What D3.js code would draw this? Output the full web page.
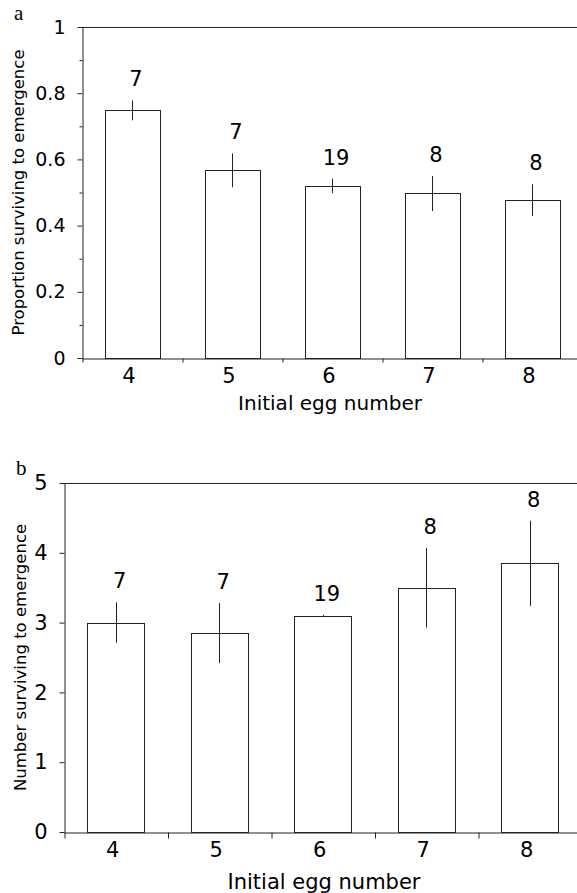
<!DOCTYPE html>
<html>
<head>
<meta charset="utf-8">
<script src="https://cdn.jsdelivr.net/npm/d3@7"></script>
<style>
  body { margin: 0; background: #fff; }
  svg { display: block; }
  text { font-family: "DejaVu Sans", "Liberation Sans", Arial, sans-serif; fill: #000; }
</style>
</head>
<body>
<div id="chart"></div>
<script>
// data
const eggNumbers = ["4", "5", "6", "7", "8"];
const sampleSizes = [7, 7, 19, 8, 8];

const propMean = [0.748, 0.567, 0.52, 0.497, 0.477];
const propSE = [0.03, 0.051, 0.022, 0.053, 0.048];
const propTicks = [0, 0.2, 0.4, 0.6, 0.8, 1];
const propMinorTicks = [0.1, 0.3, 0.5, 0.7, 0.9];

const numMean = [3.0, 2.85, 3.1, 3.5, 3.85];
const numSE = [0.29, 0.43, 0.01, 0.57, 0.61];
const numTicks = [0, 1, 2, 3, 4, 5];

const svg = d3
  .select("#chart")
  .append("svg")
  .attr("width", 577)
  .attr("height", 893);

const ink = "#222";

function drawPanel(p) {
  const g = svg.append("g");

  const x = d3
    .scaleBand()
    .domain(eggNumbers)
    .range([p.left, p.left + 5 * p.step])
    .paddingInner(0.45)
    .paddingOuter(0.225);

  const xEdge = d3
    .scaleLinear()
    .domain([0, 5])
    .range([p.left, p.left + 5 * p.step]);

  const y = d3.scaleLinear().domain([0, p.yMax]).range([p.bottom, p.top]);

  const rows = eggNumbers.map((k, i) => ({
    k: k,
    n: sampleSizes[i],
    m: p.mean[i],
    se: p.se[i]
  }));

  // bars
  g.selectAll(".bar")
    .data(rows)
    .enter()
    .append("rect")
    .attr("class", "bar")
    .attr("x", d => Math.round(x(d.k)) + 0.5)
    .attr("y", d => Math.round(y(d.m)) + 0.5)
    .attr("width", Math.round(x.bandwidth()))
    .attr("height", d => Math.round(y(0)) - Math.round(y(d.m)))
    .attr("fill", "none")
    .attr("stroke", ink)
    .attr("stroke-width", 1);

  // error bars
  g.selectAll(".err")
    .data(rows)
    .enter()
    .append("line")
    .attr("class", "err")
    .attr("x1", d => Math.round(x(d.k) + x.bandwidth() / 2) + 0.5)
    .attr("x2", d => Math.round(x(d.k) + x.bandwidth() / 2) + 0.5)
    .attr("y1", d => y(d.m + d.se))
    .attr("y2", d => y(d.m - d.se))
    .attr("stroke", ink)
    .attr("stroke-width", 1);

  // sample sizes
  g.selectAll(".nlab")
    .data(rows)
    .enter()
    .append("text")
    .attr("class", "nlab")
    .attr("x", d => x(d.k) + x.bandwidth() / 2 + 4)
    .attr("y", d => y(d.m + d.se) - 14)
    .attr("text-anchor", "middle")
    .attr("font-size", "21px")
    .text(d => d.n);

  // top frame line
  g.append("line")
    .attr("x1", p.left)
    .attr("x2", 577)
    .attr("y1", Math.round(p.top) + 0.5)
    .attr("y2", Math.round(p.top) + 0.5)
    .attr("stroke", ink);

  // y axis
  const yAxis = g
    .append("g")
    .attr("transform", `translate(${p.left + 0.5},0)`)
    .call(
      d3.axisLeft(y)
        .tickValues(p.ticks)
        .tickSize(5)
        .tickSizeOuter(0)
        .tickPadding(12)
        .tickFormat(d => String(d))
    );
  yAxis.selectAll("text").attr("font-size", p.yTickFont + "px").attr("font-family", null);
  yAxis.selectAll("line, path").attr("stroke", ink);

  if (p.minor) {
    const yMinor = g
      .append("g")
      .attr("transform", `translate(${p.left + 0.5},0)`)
      .call(d3.axisLeft(y).tickValues(p.minor).tickSize(3).tickFormat(""));
    yMinor.select("path").remove();
    yMinor.selectAll("line").attr("stroke", ink);
  }

  // x axis labels
  const xAxis = g
    .append("g")
    .attr("transform", `translate(0,${Math.round(p.bottom) + 0.5})`)
    .call(d3.axisBottom(x).tickSize(0).tickSizeOuter(0).tickPadding(10));
  xAxis.select("path").attr("stroke", ink);
  xAxis.selectAll("text")
    .attr("font-size", p.xTickFont + "px")
    .attr("font-family", null)
    .attr("dx", -3);

  // boundary ticks
  const xTicks = g
    .append("g")
    .attr("transform", `translate(0.5,${Math.round(p.bottom) + 0.5})`)
    .call(d3.axisBottom(xEdge).ticks(5).tickSize(p.xTickLen).tickFormat(""));
  xTicks.select("path").remove();
  xTicks.selectAll("line").attr("stroke", ink);

  // axis titles
  g.append("text")
    .attr("transform", `translate(${p.yTitleX},${(p.top + p.bottom) / 2}) rotate(-90)`)
    .attr("text-anchor", "middle")
    .attr("font-size", "16.5px")
    .text(p.yTitle);

  g.append("text")
    .attr("x", p.xTitleX)
    .attr("y", p.xTitleY)
    .attr("text-anchor", "middle")
    .attr("font-size", p.xTitleFont + "px")
    .text("Initial egg number");

  // panel letter
  g.append("text")
    .attr("x", p.letterX)
    .attr("y", p.letterY)
    .attr("font-size", "21px")
    .style("font-family", "'Liberation Serif', 'Times New Roman', serif")
    .text(p.letter);
}

drawPanel({
  letter: "a",
  letterX: 14,
  letterY: 20,
  left: 82,
  step: 100,
  top: 27,
  bottom: 358,
  yMax: 1,
  mean: propMean,
  se: propSE,
  ticks: propTicks,
  minor: propMinorTicks,
  yTickFont: 19,
  xTickFont: 21,
  xTickLen: 4,
  yTitle: "Proportion surviving to emergence",
  yTitleX: 24,
  xTitleX: 330,
  xTitleY: 410,
  xTitleFont: 20
});

drawPanel({
  letter: "b",
  letterX: 16,
  letterY: 475,
  left: 64,
  step: 103.5,
  top: 483,
  bottom: 832,
  yMax: 5,
  mean: numMean,
  se: numSE,
  ticks: numTicks,
  minor: null,
  yTickFont: 21,
  xTickFont: 21,
  xTickLen: 6,
  yTitle: "Number surviving to emergence",
  yTitleX: 26,
  xTitleX: 324,
  xTitleY: 889,
  xTitleFont: 21
});
</script>
</body>
</html>
